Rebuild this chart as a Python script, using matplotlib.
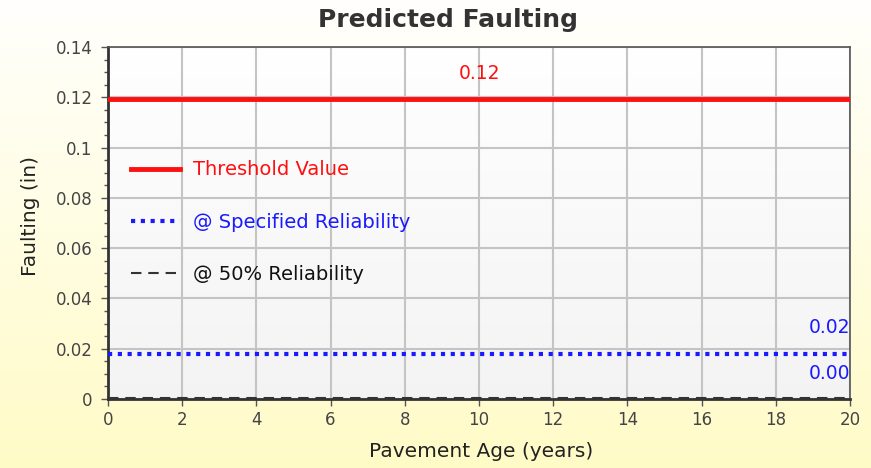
import numpy as np
import matplotlib.pyplot as plt

# pavement age (years) and predicted faulting (in)
age = [0, 2, 4, 6, 8, 10, 12, 14, 16, 18, 20]
threshold = [0.1195, 0.1195, 0.1195, 0.1195, 0.1195, 0.1195, 0.1195, 0.1195, 0.1195, 0.1195, 0.1195]
spec_rel = [0.0178, 0.0178, 0.0178, 0.0178, 0.0178, 0.0178, 0.0178, 0.0178, 0.0178, 0.0178, 0.0178]
rel50 = [0.0003, 0.0003, 0.0003, 0.0003, 0.0003, 0.0003, 0.0003, 0.0003, 0.0003, 0.0003, 0.0003]

thr_label = "0.12"
spec_label = "0.02"
rel50_label = "0.00"

W, H = 871, 468
fig = plt.figure(figsize=(W / 100, H / 100), dpi=100)

# figure background: white at the top fading to pale yellow
bg = fig.add_axes([0, 0, 1, 1], zorder=-10)
g = np.linspace(0, 1, 256)[:, None]
top = np.array([1.0, 1.0, 0.99])
bot = np.array([1.0, 0.985, 0.78])
img = top + (bot - top) * g[:, :, None] * np.ones((1, 2, 1))
bg.imshow(img, aspect='auto', extent=[0, 1, 0, 1])
bg.axis('off')

ax = fig.add_axes([108 / W, 1 - 399 / H, (850 - 108) / W, (399 - 47) / H])
ax.set_facecolor('none')
# plot area gradient white -> light gray
pa = np.array([1.0, 1.0, 1.0]) + (np.array([0.955, 0.955, 0.955]) - 1.0) * g[:, :, None] * np.ones((1, 2, 1))
ax.imshow(pa, aspect='auto', extent=[0, 20, 0, 0.14], zorder=-5)

ax.set_xlim(0, 20)
ax.set_ylim(0, 0.14)
ax.set_xticks(np.arange(0, 21, 2))
ax.set_yticks(np.arange(0, 0.141, 0.02))
ax.set_yticks(np.arange(0, 0.141, 0.005), minor=True)
ax.set_yticklabels(['0', '0.02', '0.04', '0.06', '0.08', '0.1', '0.12', '0.14'])
ax.grid(True, color='#c4c4c4', linewidth=1.5, zorder=0)
ax.set_axisbelow(True)

ax.plot(age, threshold, color='#ff1010', linewidth=3.5, label='Threshold Value', zorder=3)
ax.plot(age, spec_rel, color='#1a1aff', linewidth=3, linestyle=(0, (1, 1.35)),
        label='@ Specified Reliability', zorder=3)
ax.plot(age, rel50, color='#333333', linewidth=1.5, linestyle=(0, (5, 3.3)),
        label='@ 50% Reliability', zorder=4, clip_on=False)

ax.text(10, threshold[-1] + 0.006, thr_label, color='#ff1010', fontsize=13.5, ha='center', va='bottom')
ax.text(20, spec_rel[-1] + 0.0068, spec_label, color='#1a1aff', fontsize=13.5, ha='right', va='bottom')
ax.text(20, spec_rel[-1] - 0.0037, rel50_label, color='#1a1aff', fontsize=13.5, ha='right', va='top')

for s in ['top', 'right']:
    ax.spines[s].set_color('#555555')
    ax.spines[s].set_linewidth(1.2)
for s in ['left', 'bottom']:
    ax.spines[s].set_color('#333333')
    ax.spines[s].set_linewidth(2)

ax.tick_params(axis='both', which='major', length=5, width=1, color='#555555',
               labelsize=12, labelcolor='#444444')
ax.tick_params(axis='y', which='major', pad=6)
ax.tick_params(axis='y', which='minor', length=3, width=1, color='#555555')

ax.set_xlabel('Pavement Age (years)', fontsize=14.5, color='#222222')
ax.set_ylabel('Faulting (in)', fontsize=14.5, color='#222222')
ax.xaxis.set_label_coords(0.503, -0.122)
ax.yaxis.set_label_coords(-0.0915, 0.52)

leg = ax.legend(loc='upper left', bbox_to_anchor=(0.021, 0.70), borderaxespad=0, frameon=False,
                fontsize=14, labelcolor=['#ff1010', '#1a1aff', '#111111'], handlelength=2.5,
                handletextpad=0.65, labelspacing=1.72)

fig.text(448 / W, 1 - 20 / H, 'Predicted Faulting', fontsize=18, fontweight='bold',
         color='#333333', ha='center', va='center')

fig.savefig('out.png', dpi=100)
